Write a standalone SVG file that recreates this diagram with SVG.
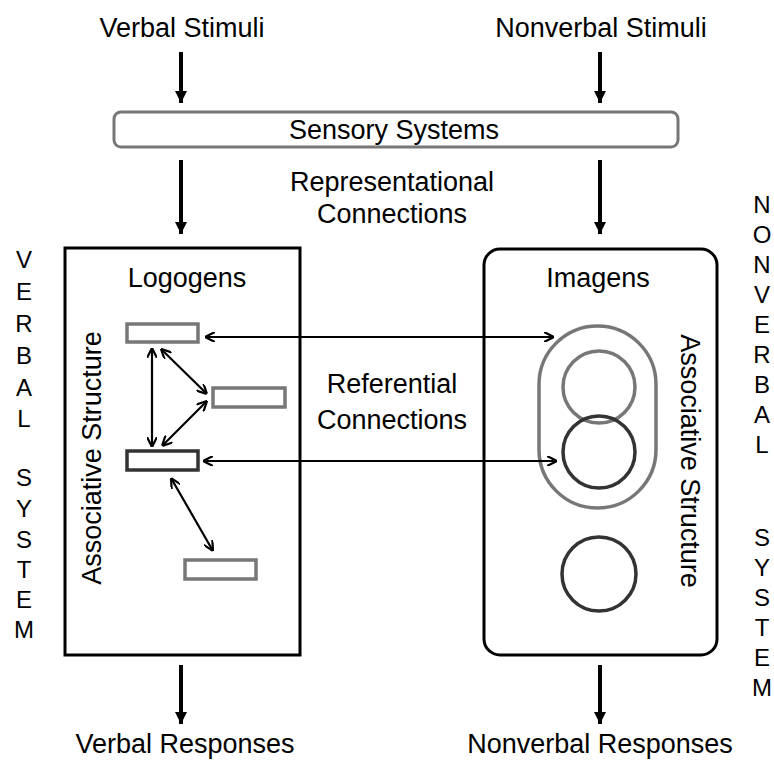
<svg xmlns="http://www.w3.org/2000/svg" width="774" height="760" viewBox="0 0 774 760">
<defs>
<marker id="ah" viewBox="0 0 10 10" refX="10" refY="5" markerWidth="10" markerHeight="10" markerUnits="userSpaceOnUse" orient="auto-start-reverse"><path d="M0,0 L10,5 L0,10" fill="none" stroke="#000" stroke-width="2.2"/></marker>
<marker id="big" viewBox="0 0 10 10" refX="10" refY="5" markerWidth="12" markerHeight="14" markerUnits="userSpaceOnUse" orient="auto"><path d="M0,0 L10,5 L0,10 Z" fill="#000"/></marker>
</defs>
<style>
text{font-family:"Liberation Sans",Arial,sans-serif;fill:#000}
.lbl{font-size:27px;text-anchor:middle}
.let{font-size:24px;text-anchor:middle}
.thick{stroke:#000;stroke-width:4;fill:none}
.thin{stroke:#000;stroke-width:2.2;fill:none}
.gr{fill:#fff;stroke:#777;stroke-width:3.5}
.dk{fill:#fff;stroke:#333;stroke-width:3.5}
</style>
<rect width="774" height="760" fill="#fff"/>
<g id="verbal-stimuli"><text class="lbl" x="182" y="37">Verbal Stimuli</text></g>
<g id="nonverbal-stimuli"><text class="lbl" x="601" y="37">Nonverbal Stimuli</text></g>
<g id="sensory"><rect x="114" y="112" width="564" height="35" rx="7" fill="#fff" stroke="#777" stroke-width="3"/><text class="lbl" x="394" y="139">Sensory Systems</text></g>
<g id="rep-label"><text class="lbl" x="392" y="191">Representational</text><text class="lbl" x="392" y="223">Connections</text></g>
<g id="verbal-box"><rect x="65" y="248" width="235" height="407" fill="none" stroke="#000" stroke-width="3"/><text class="lbl" x="187" y="287">Logogens</text><text class="lbl" transform="translate(101,458) rotate(-90)">Associative Structure</text></g>
<g id="nonverbal-box"><rect x="484" y="249" width="233" height="406" rx="16" fill="none" stroke="#000" stroke-width="3"/><text class="lbl" x="598" y="287">Imagens</text><text class="lbl" transform="translate(681,461) rotate(90)">Associative Structure</text></g>
<g id="logogen1"><rect class="gr" x="127" y="324" width="71" height="18"/></g>
<g id="logogen2"><rect class="gr" x="213" y="388" width="72" height="19"/></g>
<g id="logogen3"><rect class="dk" x="127" y="451" width="71" height="19"/></g>
<g id="logogen4"><rect class="gr" x="185" y="560" width="71" height="19"/></g>
<g id="imagen-group"><rect x="539" y="326" width="117" height="182" rx="58.5" fill="none" stroke="#777" stroke-width="3.5"/></g>
<g id="imagen1"><circle cx="599" cy="387" r="36" fill="none" stroke="#777" stroke-width="3.5"/></g>
<g id="imagen2"><circle cx="599" cy="452" r="36" fill="none" stroke="#333" stroke-width="3.5"/></g>
<g id="imagen3"><circle cx="599" cy="574" r="37" fill="none" stroke="#333" stroke-width="3.5"/></g>
<g id="ref-label"><text class="lbl" x="392" y="393">Referential</text><text class="lbl" x="392" y="429">Connections</text></g>
<g id="verbal-responses"><text class="lbl" x="185" y="753">Verbal Responses</text></g>
<g id="nonverbal-responses"><text class="lbl" x="600" y="753">Nonverbal Responses</text></g>
<g id="verbal-system">
<text class="let" x="24" y="268">V</text><text class="let" x="24" y="300">E</text><text class="let" x="24" y="332">R</text><text class="let" x="24" y="364">B</text><text class="let" x="24" y="396">A</text><text class="let" x="24" y="427">L</text>
<text class="let" x="24" y="486">S</text><text class="let" x="24" y="517">Y</text><text class="let" x="24" y="548">S</text><text class="let" x="24" y="578">T</text><text class="let" x="24" y="608">E</text><text class="let" x="24" y="638">M</text>
</g>
<g id="nonverbal-system">
<text class="let" x="762" y="213">N</text><text class="let" x="762" y="243">O</text><text class="let" x="762" y="273">N</text><text class="let" x="762" y="303">V</text><text class="let" x="762" y="333">E</text><text class="let" x="762" y="363">R</text><text class="let" x="762" y="393">B</text><text class="let" x="762" y="423">A</text><text class="let" x="762" y="453">L</text>
<text class="let" x="762" y="546">S</text><text class="let" x="762" y="576">Y</text><text class="let" x="762" y="606">S</text><text class="let" x="762" y="636">T</text><text class="let" x="762" y="666">E</text><text class="let" x="762" y="696">M</text>
</g>
<g id="connectors">
<line class="thick" x1="181" y1="52" x2="181" y2="103" marker-end="url(#big)"/>
<line class="thick" x1="600" y1="52" x2="600" y2="103" marker-end="url(#big)"/>
<line class="thick" x1="181" y1="160" x2="181" y2="234" marker-end="url(#big)"/>
<line class="thick" x1="600" y1="160" x2="600" y2="234" marker-end="url(#big)"/>
<line class="thick" x1="181" y1="665" x2="181" y2="724" marker-end="url(#big)"/>
<line class="thick" x1="600" y1="665" x2="600" y2="724" marker-end="url(#big)"/>
<line class="thin" x1="205" y1="337" x2="554" y2="337" marker-start="url(#ah)" marker-end="url(#ah)"/>
<line class="thin" x1="203" y1="461" x2="557" y2="461" marker-start="url(#ah)" marker-end="url(#ah)"/>
<line class="thin" x1="152" y1="348" x2="152" y2="447" marker-start="url(#ah)" marker-end="url(#ah)"/>
<line class="thin" x1="161" y1="349" x2="207" y2="394" marker-start="url(#ah)" marker-end="url(#ah)"/>
<line class="thin" x1="207" y1="401" x2="162" y2="446" marker-start="url(#ah)" marker-end="url(#ah)"/>
<line class="thin" x1="171" y1="478" x2="213" y2="551" marker-start="url(#ah)" marker-end="url(#ah)"/>
</g>
</svg>
